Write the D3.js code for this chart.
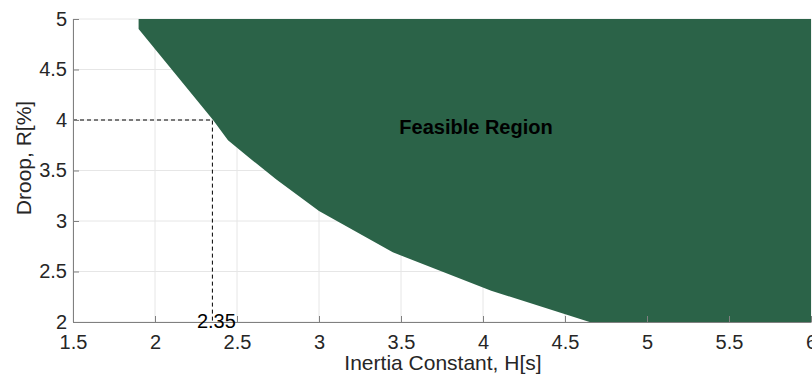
<!DOCTYPE html>
<html>
<head>
<meta charset="utf-8">
<script src="https://cdn.jsdelivr.net/npm/d3@7"></script>
<style>
  html, body { margin: 0; padding: 0; background: #fff; }
  svg { display: block; font-family: "Liberation Sans", Arial, sans-serif; }
  .tick text { fill: #262626; font-size: 20px; }
</style>
</head>
<body>
<div id="chart"></div>
<script>
// Feasible region of inertia constant H vs droop R

const boundaryH = [1.9, 1.9, 2.354, 2.445, 2.58, 2.74, 3.0, 3.12, 3.45, 4.05, 4.65];
const boundaryR = [5.0, 4.9, 4.0, 3.80, 3.62, 3.41, 3.1, 2.99, 2.69, 2.31, 2.0];
const xTicks = [1.5, 2, 2.5, 3, 3.5, 4, 4.5, 5, 5.5, 6];
const yTicks = [2, 2.5, 3, 3.5, 4, 4.5, 5];
const markH = 2.35, markR = 4;

const width = 812, height = 383;
const margin = { top: 19, right: 1, bottom: 61, left: 73 };

const svg = d3.select("#chart").append("svg")
  .attr("width", width).attr("height", height);

const x = d3.scaleLinear().domain([1.5, 6]).range([margin.left, width - margin.right]);
const y = d3.scaleLinear().domain([2, 5]).range([height - margin.bottom, margin.top]);

// grid
const grid = svg.append("g");
grid.selectAll("line.gx").data(xTicks).join("line")
  .attr("x1", d => x(d)).attr("x2", d => x(d))
  .attr("y1", y(2)).attr("y2", y(5))
  .attr("stroke", "#e6e6e6").attr("stroke-width", 1);
grid.selectAll("line.gy").data(yTicks).join("line")
  .attr("y1", d => y(d)).attr("y2", d => y(d))
  .attr("x1", x(1.5)).attr("x2", x(6))
  .attr("stroke", "#e6e6e6").attr("stroke-width", 1);

// feasible region: boundary then close along bottom-right and top
const pts = boundaryH.map((h, i) => [h, boundaryR[i]]);
const poly = pts.concat([[6, 2], [6, 5]]);
svg.append("path")
  .attr("d", d3.line().x(d => x(d[0])).y(d => y(d[1]))(poly) + "Z")
  .attr("fill", "#2b6348");

// dashed guide lines
svg.append("path")
  .attr("d", `M${x(1.5)},${y(markR)}H${x(markH)}V${y(2)}`)
  .attr("fill", "none").attr("stroke", "#000").attr("stroke-width", 1)
  .attr("stroke-dasharray", "4,3");

// axes
svg.append("g").attr("transform", `translate(0,${y(2)})`)
  .call(d3.axisBottom(x).tickValues(xTicks).tickFormat(d3.format("")).tickSizeInner(-6).tickSizeOuter(0).tickPadding(13));
svg.append("g").attr("transform", `translate(${x(1.5)},0)`)
  .call(d3.axisLeft(y).tickValues(yTicks).tickFormat(d3.format("")).tickSizeInner(-6).tickSizeOuter(0).tickPadding(6));
svg.selectAll(".domain, .tick line").attr("stroke", "#808080");
svg.selectAll(".tick text").attr("font-family", "Liberation Sans, Arial, sans-serif");

// annotation
svg.append("text")
  .attr("x", x(markH) + 4).attr("y", 328)
  .attr("text-anchor", "middle").attr("fill", "#000")
  .attr("font-size", 20).text("2.35");

svg.append("text")
  .attr("x", 476).attr("y", 134)
  .attr("text-anchor", "middle").attr("font-weight", "bold")
  .attr("font-size", 20).attr("fill", "#000").text("Feasible Region");

// axis titles
svg.append("text")
  .attr("x", 443).attr("y", 370)
  .attr("text-anchor", "middle").attr("font-size", 21).attr("fill", "#262626")
  .text("Inertia Constant, H[s]");
svg.append("text")
  .attr("transform", `translate(31,158) rotate(-90)`)
  .attr("text-anchor", "middle").attr("font-size", 21).attr("fill", "#262626")
  .text("Droop, R[%]");
</script>
</body>
</html>
